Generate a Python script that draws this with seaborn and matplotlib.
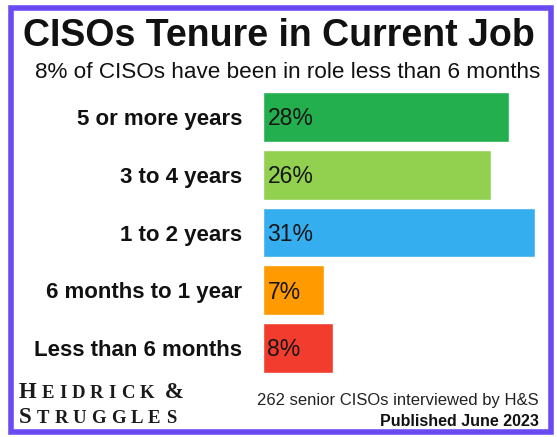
import matplotlib
matplotlib.use("Agg")
import matplotlib.pyplot as plt
import seaborn as sns
import pandas as pd
from matplotlib.patches import Rectangle

categories = ["5 or more years", "3 to 4 years", "1 to 2 years",
              "6 months to 1 year", "Less than 6 months"]
shares = [28, 26, 31, 7, 8]
bar_colors = ["#23AF4D", "#92D050", "#35AEF0", "#FF9A00", "#F23C2E"]

df = pd.DataFrame({"tenure": categories, "pct": shares})

sns.set_theme(style="white")
plt.rcParams["font.family"] = ["Liberation Sans", "DejaVu Sans"]

fig = plt.figure(figsize=(5.57, 4.37), dpi=100)
ax = fig.add_axes([263 / 557, 60 / 437, 272 / 557, 289 / 437])

sns.barplot(data=df, x="pct", y="tenure", hue="tenure", palette=bar_colors,
            order=categories, hue_order=categories, legend=False,
            width=0.86, saturation=1, ax=ax)
ax.set_xlim(0, 31)
ax.set_ylim(4.5, -0.5)
ax.set_xlabel("")
ax.set_ylabel("")
ax.set_xticks([])
ax.tick_params(axis="y", length=0, pad=15)
for lab in ax.get_yticklabels():
    lab.set_fontweight("bold")
    lab.set_fontsize(16)
    lab.set_color("#111111")
sns.despine(ax=ax, left=True, bottom=True)

for i, v in enumerate(shares):
    ax.text(0.5, i + 0.03, f"{v}%", va="center", ha="left", fontsize=16.5,
            color="#161616")

# frame
fig.patches.append(Rectangle((10.5 / 557, 5.5 / 437), 540 / 557, 424 / 437,
                             transform=fig.transFigure, fill=False,
                             edgecolor="#6A4BF2", linewidth=4))

fig.text(0.5, 1 - 36 / 437, "CISOs Tenure in Current Job", ha="center",
         va="center", fontsize=27, fontweight="bold", color="#111111")
fig.text(288 / 557, 1 - 73 / 437, "8% of CISOs have been in role less than 6 months",
         ha="center", va="center", fontsize=16.2, color="#111111")

fig.text(539 / 557, 1 - 400 / 437, "262 senior CISOs interviewed by H&S",
         ha="right", va="center", fontsize=12, color="#222222")
fig.text(539 / 557, 1 - 422 / 437, "Published June 2023",
         ha="right", va="center", fontsize=11.5, fontweight="bold",
         color="#111111")

# small-caps logo
renderer = fig.canvas.get_renderer()


def small_caps(x_px, y_px, word_parts, gap=5):
    x = x_px
    for txt, size in word_parts:
        t = fig.text(x / 557, 1 - y_px / 437, txt, ha="left", va="baseline",
                     fontsize=size, family="Liberation Serif",
                     fontweight="bold", color="#1A1A1A")
        bb = t.get_window_extent(renderer=renderer)
        x += bb.width + gap


line1 = [("H", 16.5)] + [(c, 13.5) for c in "EIDRICK"] + [(" &", 16.5)]
line2 = [("S", 16.5)] + [(c, 13.5) for c in "TRUGGLES"]
small_caps(19, 398, line1)
small_caps(19, 423, line2)

fig.savefig("out.png", dpi=100)
